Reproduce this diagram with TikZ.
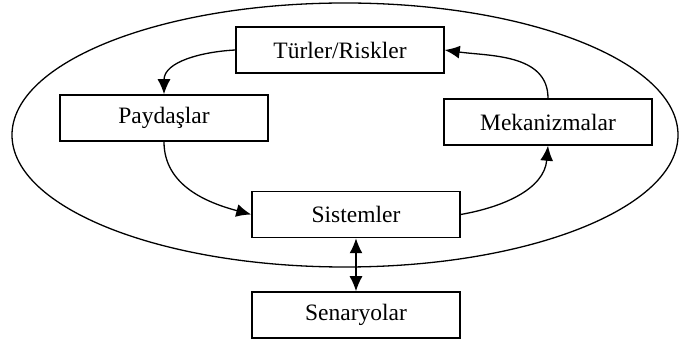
\documentclass[tikz,border=0pt]{standalone}
\usepackage{fontspec}
\setmainfont{Liberation Serif}
\usetikzlibrary{positioning, arrows.meta}

\begin{document}
\begin{tikzpicture}[
  x=1pt, y=1pt,
  node distance=53pt,
  box/.style={rectangle, draw, line width=1.5pt, minimum width=208pt, minimum height=46pt, inner sep=0pt, font=\fontsize{23.5}{27}\selectfont},
  arr/.style={-{Latex[length=15pt, width=13pt]}, line width=1.3pt},
  twoway/.style={{Latex[length=15pt, width=13pt]}-{Latex[length=15pt, width=13pt]}, line width=1.3pt}
]
\useasboundingbox (0,0) rectangle (680,340);

\draw[line width=1.3pt] (345,205) ellipse [x radius=333, y radius=132];

\node[box] (turler) at (340,290) {Türler/Riskler};
\node[box] (paydaslar) at (164,222) {Paydaşlar};
\node[box] (mekanizmalar) at (548,218) {Mekanizmalar};
\node[box] (sistemler) at (356,125.5) {Sistemler};
\node[box, below=of sistemler] (senaryolar) {Senaryolar};

\draw[arr] (turler.west) to[out=183, in=90] (paydaslar.north);
\draw[arr] (paydaslar.south) to[out=-90, in=165] (sistemler.west);
\draw[arr] (sistemler.east) to[out=10, in=-95] (mekanizmalar.south);
\draw[arr] (mekanizmalar.north) to[out=90, in=-8] (turler.east);
\draw[twoway] (sistemler) -- (senaryolar);
\end{tikzpicture}
\end{document}
